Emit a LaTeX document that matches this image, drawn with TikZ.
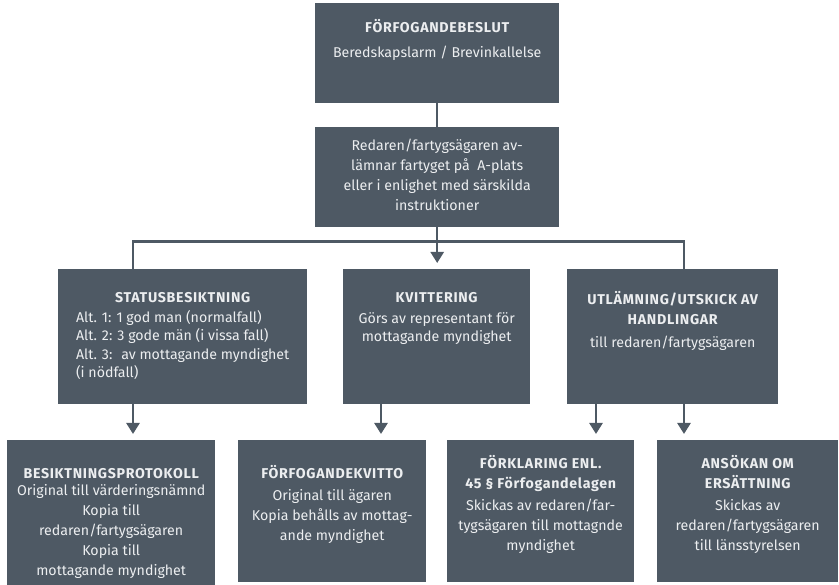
\documentclass[tikz,border=0pt]{standalone}
\usepackage{fontspec}
\setmainfont{Fira Sans}
\newfontfamily\headfont{Fira Sans}[LetterSpace=5]
\usetikzlibrary{arrows.meta,positioning,calc}
\definecolor{fSlate}{HTML}{4E5964}
\definecolor{fPale}{HTML}{ECEEF0}
\newcommand{\boxtext}[4]{\parbox[c][#2][t]{#1}{\centering\rule{0pt}{#3}#4}}
\newcommand{\hd}[1]{{\headfont\bfseries #1}}
\tikzset{
  flowbox/.style={fill=fSlate, text=fPale, inner sep=0pt, anchor=north west,
    font=\fontsize{14.2}{20}\selectfont},
  conn/.style={fSlate, line width=2.5pt},
  arr/.style={conn, -{Triangle[width=13pt,length=11pt]}, shorten >=6pt}
}

\begin{document}
\begin{tikzpicture}[x=1pt,y=-1pt]
  \useasboundingbox (0,0) rectangle (839,585);
  % top of the chain
  \node[flowbox] (beslut) at (315,3) {\boxtext{244pt}{100pt}{29pt}{\hd{FÖRFOGANDEBESLUT}\\[5pt]Beredskapslarm / Brevinkallelse}};
  \node[flowbox] (avlamning) at (315,127) {\boxtext{244pt}{100pt}{23pt}{Redaren/fartygsägaren av-\\lämnar fartyget på \ A-plats\\eller i enlighet med särskilda\\instruktioner}};
  % middle row
  \node[flowbox] (status) at (58,269) {\boxtext{249pt}{135pt}{33pt}{\def\arraystretch{0.92}\begin{tabular}[t]{@{}l@{}}\multicolumn{1}{@{}c@{}}{\hd{STATUSBESIKTNING}}\\[2pt]
    Alt. 1: 1 god man (normalfall)\\Alt. 2: 3 gode män (i vissa fall)\\Alt. 3: \ av mottagande myndighet\\(i nödfall)\end{tabular}}};
  \node[flowbox] (kvitt) at (343,269) {\boxtext{187pt}{135pt}{33pt}{\hd{KVITTERING}\\[1pt]Görs av representant för\\[-2pt]mottagande myndighet}};
  \node[flowbox] (utlamn) at (567,269) {\boxtext{211pt}{135pt}{35pt}{\hd{UTLÄMNING/UTSKICK AV\\HANDLINGAR}\\[3pt]till redaren/fartygsägaren}};
  % bottom row
  \node[flowbox] (protokoll) at (7,440) {\boxtext{208pt}{145pt}{38pt}{\hd{BESIKTNINGSPROTOKOLL}\\[-3pt]Original till värderingsnämnd\\Kopia till\\redaren/fartygsägaren\\Kopia till\\mottagande myndighet}};
  \node[flowbox] (kvitto) at (238,440) {\boxtext{188pt}{142pt}{38pt}{\hd{FÖRFOGANDEKVITTO}\\[2pt]Original till ägaren\\Kopia behålls av mottag-\\ande myndighet}};
  \node[flowbox] (forklaring) at (447,440) {\boxtext{187pt}{142pt}{28pt}{\hd{FÖRKLARING ENL.\\45 § Förfogandelagen}\\[2pt]Skickas av redaren/far-\\tygsägaren till mottagnde\\myndighet}};
  \node[flowbox] (ansokan) at (657,440) {\boxtext{181pt}{142pt}{28pt}{\hd{ANSÖKAN OM\\ERSÄTTNING}\\[2pt]Skickas av\\redaren/fartygsägaren\\till länsstyrelsen}};
  % columns of the connectors
  \coordinate (colA) at (133,0);
  \coordinate (colK) at (381,0);
  \coordinate (colF) at (596,0);
  \coordinate (colC) at (684,0);
  \coordinate (split) at ($(avlamning.south)+(0,14)$);
  \draw[conn] (beslut) -- (avlamning);
  \draw[conn] (avlamning.south) -- (split);
  \draw[conn] (colA |- status.north) |- (split) -| (colC |- utlamn.north);
  \draw[arr] (split) -- (split |- kvitt.north);
  \foreach \src/\dst/\col in {status/protokoll/colA, kvitt/kvitto/colK,
     utlamn/forklaring/colF, utlamn/ansokan/colC}{
     \draw[arr] (\col |- \src.south) -- (\col |- \dst.north);
  }
\end{tikzpicture}
\end{document}
